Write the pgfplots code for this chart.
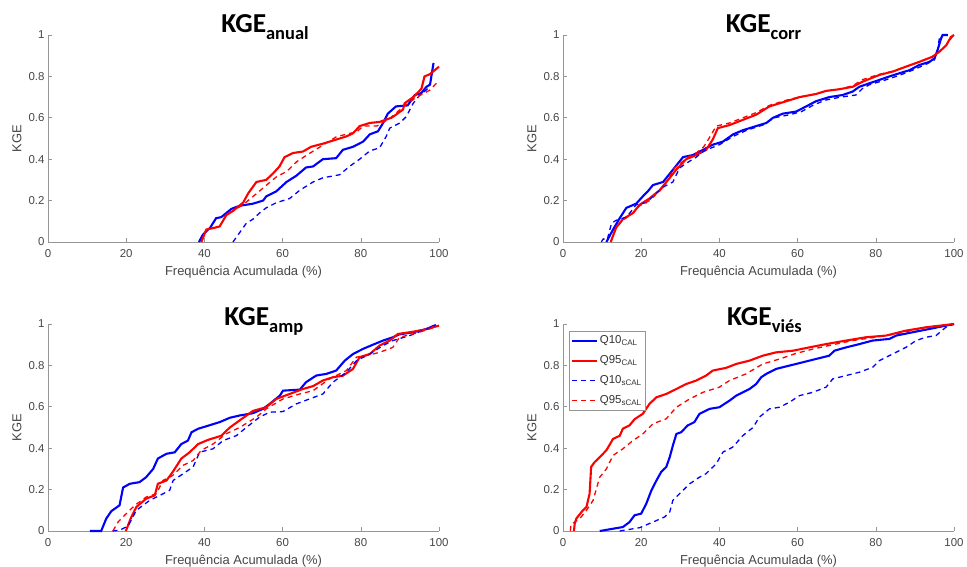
\documentclass[border=0pt]{standalone}
\usepackage{pgfplots}
\pgfplotsset{compat=1.18}
\usepackage{fontspec}
\setmainfont{Liberation Sans}
\newfontfamily\titlefont{Carlito}
\definecolor{axgray}{RGB}{150,150,150}
\definecolor{txtgray}{RGB}{70,70,70}
\definecolor{mblue}{RGB}{0,0,255}
\definecolor{mred}{RGB}{255,0,0}
\pgfplotsset{
 kge/.style={
  scale only axis, width=391bp, height=207bp,
  xmin=0,xmax=100,ymin=0,ymax=1,
  axis lines=left, axis line style={-, draw=axgray, line width=0.6bp},
  xtick={0,20,40,60,80,100}, ytick={0,0.2,0.4,0.6,0.8,1},
  tick align=inside, major tick length=4bp,
  tick style={draw=axgray, line width=0.6bp},
  tick label style={font=\fontsize{11.5}{13}\selectfont, text=txtgray},
  /pgf/number format/assume math mode=true,
  xticklabel style={yshift=-4bp},
  xlabel={Frequência Acumulada (\%)},
  ylabel={KGE},
  label style={font=\fontsize{13}{15}\selectfont, text=txtgray},
  xlabel style={at={(axis description cs:0.5,-0.164)}, anchor=base},
  ylabel style={at={(axis description cs:-0.0793,0.5)}, anchor=center},
  clip=false,
 },
 qc/.style={line width=2.1bp, solid},
 qs/.style={line width=1.3bp, dash pattern=on 5bp off 4bp},
}
\newcommand{\kgetitle}[1]{{\fontsize{27.5}{30}\selectfont KGE}\raisebox{-7bp}{\fontsize{18.5}{20}\selectfont #1}}
\begin{document}
\begin{tikzpicture}
\useasboundingbox (0,0) rectangle (967bp,567bp);
% ---------------- KGE anual
\begin{axis}[kge, at={(48bp,325bp)}, anchor=south west]
\addplot[mblue,qc] coordinates {(38.6,0) (39.6,0.035) (41.5,0.07) (43,0.115) (44.3,0.12) (46.9,0.16) (49,0.175) (52.4,0.185) (55,0.2) (55.8,0.22) (58.4,0.245) (61,0.29) (63.5,0.32) (66,0.36) (67.8,0.365) (70.3,0.40) (73.7,0.405) (75.4,0.445) (78,0.46) (80.6,0.485) (82.3,0.52) (84.4,0.535) (85.7,0.575) (86.9,0.62) (89,0.655) (92,0.66) (93.8,0.71) (95.5,0.72) (96.8,0.75) (97.7,0.76) (98.6,0.865)};
\addplot[mred,qc] coordinates {(39.2,0) (40.5,0.06) (42.2,0.067) (43.9,0.075) (45.6,0.13) (47.3,0.15) (49.9,0.19) (51.2,0.235) (53.3,0.29) (55.8,0.30) (57.5,0.33) (59.2,0.365) (60.5,0.41) (62.7,0.43) (65.2,0.437) (67.3,0.46) (70.3,0.475) (72.9,0.49) (76.3,0.51) (78,0.525) (79.7,0.56) (82.3,0.575) (84.8,0.58) (87.8,0.60) (89,0.615) (90.8,0.64) (91.2,0.67) (93.4,0.70) (95.5,0.74) (96.3,0.80) (97.6,0.81) (98.9,0.83) (100,0.847)};
\addplot[mblue,qs] coordinates {(47.3,0) (49,0.045) (50.7,0.09) (52.4,0.11) (54.1,0.14) (55.8,0.165) (58.4,0.19) (61.8,0.21) (64.4,0.25) (67.8,0.29) (70.3,0.31) (74.6,0.325) (77.1,0.365) (79.7,0.40) (82.3,0.44) (84.8,0.455) (86.5,0.51) (87.4,0.55) (90,0.575) (91.6,0.605) (93.4,0.67) (95.1,0.71) (96.8,0.735) (97.5,0.75)};
\addplot[mred,qs] coordinates {(39.2,0) (40.5,0.06) (42.2,0.067) (43.9,0.075) (45.6,0.13) (47.3,0.15) (49.9,0.18) (53.4,0.235) (55.9,0.275) (58.5,0.316) (61,0.34) (63.6,0.388) (66.2,0.42) (70.4,0.469) (73.8,0.509) (79,0.533) (80.6,0.56) (84.1,0.56) (87.5,0.598) (90.9,0.654) (94.3,0.70) (97.7,0.734) (100,0.78)};
\node[anchor=base, font=\titlefont\bfseries, yshift=2bp] at (rel axis cs:0.555,1) {\kgetitle{anual}};
\end{axis}
% ---------------- KGE corr
\begin{axis}[kge, at={(563bp,325bp)}, anchor=south west]
\addplot[mblue,qc] coordinates {(11.1,0) (12.8,0.06) (14.5,0.115) (16.2,0.165) (18.7,0.185) (20.4,0.22) (21.7,0.245) (23,0.275) (25.6,0.29) (27.3,0.33) (29,0.37) (30.7,0.41) (33.2,0.42) (35.8,0.445) (38.3,0.47) (40.9,0.485) (43.5,0.52) (46,0.54) (49.4,0.56) (52,0.575) (53.7,0.60) (56.2,0.62) (59.6,0.63) (62.2,0.655) (64.7,0.68) (68.1,0.70) (71.5,0.71) (74.1,0.727) (75.8,0.75) (78.4,0.767) (80.9,0.783) (83.5,0.80) (86,0.815) (88.6,0.83) (91.1,0.855) (93.7,0.87) (95,0.887) (95.8,0.927) (96.7,0.984) (97.1,1.0) (98.4,1.0)};
\addplot[mred,qc] coordinates {(12.2,0) (13.6,0.07) (15.3,0.11) (17.9,0.14) (19.6,0.18) (22.1,0.21) (24.7,0.25) (27.3,0.31) (29,0.35) (31.5,0.40) (34.1,0.42) (36.6,0.445) (38.3,0.495) (39.6,0.55) (42.6,0.565) (46,0.59) (49.4,0.615) (52.8,0.655) (57.1,0.68) (60.5,0.70) (64.7,0.715) (67.3,0.73) (70.7,0.738) (74.1,0.75) (76.7,0.775) (80.9,0.807) (84.3,0.823) (87.7,0.847) (91.1,0.87) (94.5,0.895) (96.3,0.92) (98,0.95) (99.2,0.99) (100,1)};
\addplot[mblue,qs] coordinates {(9.8,0) (10.3,0.015) (11.3,0.01) (12.4,0.09) (13.6,0.105) (16.2,0.12) (17.5,0.15) (18.7,0.18) (21.3,0.19) (23,0.22) (25.6,0.265) (28.1,0.29) (29.8,0.357) (31.5,0.38) (34.1,0.41) (36,0.44) (40,0.47) (43.5,0.51) (47,0.54) (51.1,0.565) (54,0.6) (58,0.615) (61,0.63) (63.9,0.66) (67,0.685) (71,0.70) (74.9,0.71) (76.5,0.74) (78.4,0.76) (82,0.78) (86,0.805) (89.4,0.83) (93,0.86) (95,0.88) (95.8,0.93) (96.3,0.99) (97.1,1) (98,1)};
\addplot[mred,qs] coordinates {(12.2,0) (13.6,0.07) (15.3,0.105) (17.9,0.14) (19.6,0.175) (22.1,0.2) (24.7,0.245) (27.3,0.31) (28,0.35) (30,0.38) (32,0.41) (34.1,0.43) (36,0.46) (37,0.49) (39.2,0.56) (42.6,0.575) (46,0.6) (49.4,0.625) (52.8,0.66) (57.1,0.685) (60.5,0.70) (64.7,0.715) (67.3,0.73) (70.7,0.738) (74.1,0.755) (76.7,0.785) (80.9,0.81) (84.3,0.825) (87.7,0.847) (91.1,0.87) (94.5,0.895) (96.3,0.92) (98,0.95) (99.5,0.99) (100,1)};
\node[anchor=base, font=\titlefont\bfseries, yshift=2bp] at (rel axis cs:0.513,1) {\kgetitle{corr}};
\end{axis}
% ---------------- KGE amp
\begin{axis}[kge, at={(48bp,36bp)}, anchor=south west]
\addplot[mblue,qc] coordinates {(10.7,0) (13.6,0) (14.9,0.06) (16.2,0.096) (18.3,0.124) (19.2,0.21) (20.9,0.228) (23.4,0.236) (25.1,0.26) (26.9,0.30) (28.1,0.35) (30.3,0.373) (32.4,0.38) (34.1,0.42) (35.8,0.437) (36.7,0.477) (38.4,0.494) (40.5,0.506) (43.9,0.526) (46.5,0.547) (49,0.558) (52.4,0.569) (55,0.59) (56.7,0.614) (59.3,0.654) (60.1,0.678) (64.4,0.683) (66,0.719) (68.6,0.751) (71.2,0.759) (73.7,0.775) (75.9,0.823) (78,0.855) (80.6,0.88) (83.1,0.90) (85.7,0.92) (88.2,0.936) (89.9,0.95) (93.4,0.96) (96.8,0.976) (98.5,0.99) (99.2,0.995)};
\addplot[mred,qc] coordinates {(19.9,0) (21.3,0.067) (22.6,0.116) (25.1,0.156) (27.3,0.172) (28.1,0.228) (30.3,0.244) (31.9,0.285) (34.1,0.35) (36.2,0.38) (38.4,0.42) (40.9,0.44) (44.3,0.46) (46.5,0.50) (49,0.534) (52.4,0.58) (55.8,0.598) (58.4,0.638) (61.8,0.662) (65.2,0.686) (67.8,0.70) (70.3,0.727) (72.9,0.743) (75.4,0.75) (78,0.783) (79.7,0.84) (82.3,0.855) (84.8,0.896) (87.4,0.92) (89.5,0.952) (92.5,0.96) (95.9,0.971) (100,0.992)};
\addplot[mblue,qs] coordinates {(16.5,0) (18.5,0.005) (20,0.02) (20.8,0.035) (22.6,0.1) (26,0.148) (28.6,0.172) (31.1,0.196) (32,0.244) (34.5,0.276) (37.1,0.309) (38.8,0.381) (42.2,0.397) (44.8,0.437) (48.2,0.461) (50.7,0.50) (54.1,0.55) (56.7,0.574) (60.1,0.577) (63.5,0.614) (66.9,0.638) (70.3,0.662) (72.9,0.719) (76.3,0.767) (78.9,0.823) (82.3,0.855) (85.7,0.896) (88.2,0.92) (92.5,0.944) (96,0.97) (99,0.99)};
\addplot[mred,qs] coordinates {(16.6,0) (17.9,0.043) (19.6,0.076) (22.2,0.124) (25.1,0.164) (27.7,0.18) (29.4,0.244) (31.9,0.268) (34.5,0.317) (37.1,0.34) (39.2,0.39) (42.2,0.42) (45.6,0.47) (49,0.50) (53.3,0.55) (55.8,0.59) (60.1,0.638) (64.4,0.662) (67.8,0.678) (72,0.735) (76.3,0.775) (78.9,0.84) (81.4,0.847) (84.8,0.863) (88.2,0.887) (89.9,0.936) (93.4,0.952) (96.8,0.971) (100,0.992)};
\node[anchor=base, font=\titlefont\bfseries, yshift=-2bp] at (rel axis cs:0.552,1) {\kgetitle{amp}};
\end{axis}
% ---------------- KGE vies
\begin{axis}[kge, at={(563bp,36bp)}, anchor=south west,
  legend style={at={(rel axis cs:0.0153,0.966)}, anchor=north west, draw=axgray, line width=0.6bp,
    font=\fontsize{11.5}{13}\selectfont, text=black!80, inner xsep=2bp, inner ysep=3bp, row sep=7.5bp,
    nodes={inner sep=1.5bp}},
  legend cell align=left,
  legend image code/.code={\draw[#1] (0bp,0bp) -- (25bp,0bp);}]
\addplot[mblue,qc] coordinates {(9.4,0) (12.8,0.011) (15.3,0.019) (17,0.043) (18.3,0.076) (20,0.084) (21.3,0.132) (22.6,0.196) (23.9,0.244) (25.1,0.285) (26.4,0.309) (27.3,0.357) (28.1,0.413) (29,0.469) (30.2,0.477) (31.9,0.51) (33.6,0.526) (34.9,0.566) (37.5,0.59) (40,0.598) (42.6,0.63) (44.3,0.654) (47.7,0.686) (49.4,0.71) (50.7,0.743) (52,0.759) (54.5,0.783) (57.9,0.799) (61.3,0.815) (64.7,0.831) (68.1,0.847) (69.4,0.871) (72.4,0.887) (75.8,0.903) (79.2,0.92) (83.5,0.928) (85.2,0.944) (89.4,0.96) (93.7,0.976) (100,1)};
\addlegendentry{Q10\textsubscript{CAL}}
\addplot[mred,qc] coordinates {(2.8,0) (3,0.035) (3.4,0.06) (5.1,0.10) (6,0.116) (6.8,0.18) (7.2,0.31) (8.1,0.333) (9.4,0.357) (11.1,0.39) (12.8,0.445) (14.5,0.46) (15.3,0.494) (17,0.51) (18.3,0.54) (20.4,0.566) (22.1,0.614) (23.9,0.646) (26.4,0.662) (29,0.686) (31.5,0.71) (34.1,0.727) (36.6,0.751) (38.3,0.775) (41.7,0.788) (44.3,0.807) (47.7,0.823) (51.1,0.847) (54.5,0.863) (58.8,0.871) (63,0.887) (67.3,0.903) (72.4,0.92) (77.5,0.936) (82.6,0.944) (87.7,0.968) (92.8,0.984) (100,1)};
\addlegendentry{Q95\textsubscript{CAL}}
\addplot[mblue,qs] coordinates {(14.5,0) (19.6,0.016) (23,0.043) (26,0.068) (27.3,0.092) (28.1,0.148) (29.8,0.18) (32.4,0.228) (34.9,0.26) (36.6,0.277) (39.2,0.325) (40.9,0.381) (43.4,0.405) (46,0.461) (48.6,0.50) (50.2,0.55) (52.8,0.59) (55.4,0.598) (57.9,0.622) (60.5,0.654) (63.9,0.67) (67.3,0.695) (69,0.735) (72.4,0.751) (75.8,0.767) (79.2,0.791) (80.9,0.823) (84.3,0.855) (87.7,0.887) (90.3,0.92) (92.8,0.936) (95.4,0.944) (97.9,0.984) (100,1)};
\addlegendentry{Q10\textsubscript{sCAL}}
\addplot[mred,qs] coordinates {(1.9,0) (2.0,0.03) (4.3,0.06) (6,0.1) (7.7,0.148) (8.9,0.228) (9.4,0.26) (11.1,0.30) (12.8,0.365) (15.3,0.397) (17.9,0.437) (20.4,0.469) (23,0.518) (26.4,0.542) (29,0.598) (32.4,0.638) (35.8,0.67) (40,0.695) (42.6,0.727) (46.8,0.759) (51.1,0.807) (55.4,0.831) (59.6,0.858) (63.9,0.879) (69,0.90) (74.1,0.92) (80.9,0.939) (86,0.955) (92.8,0.984) (100,1)};
\addlegendentry{Q95\textsubscript{sCAL}}
\node[anchor=base, font=\titlefont\bfseries, yshift=-2bp] at (rel axis cs:0.515,1) {\kgetitle{viés}};
\end{axis}
\end{tikzpicture}
\end{document}
